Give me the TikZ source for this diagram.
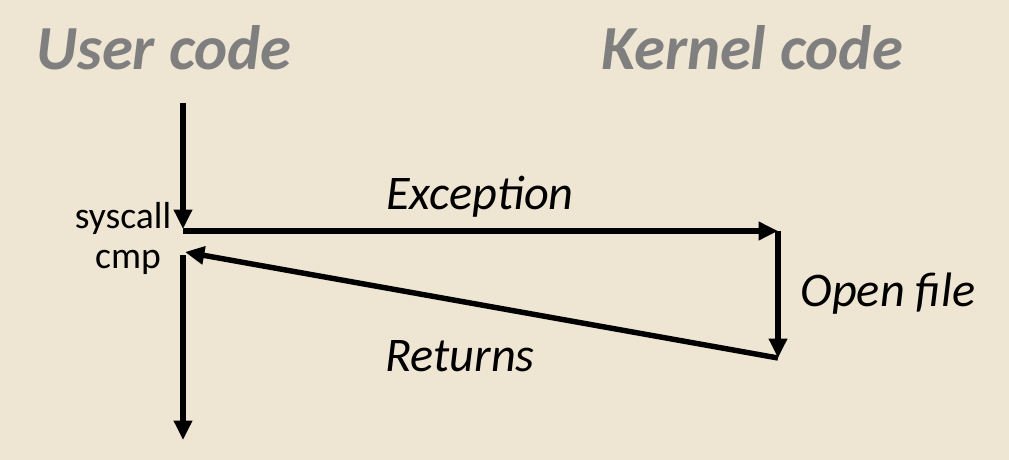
\documentclass[tikz,border=0pt]{standalone}
\usepackage{fontspec}
\setmainfont{Carlito}
\usepackage{xcolor}
\definecolor{slidebg}{HTML}{EEE5D2}
\definecolor{titlegray}{HTML}{7F7F7F}
\usetikzlibrary{arrows.meta}
\tikzset{flow/.style={line width=3.1pt,-{Triangle[length=11pt,width=10pt]}},
 title/.style={font=\fontsize{35.7}{42}\selectfont\bfseries\itshape,text=titlegray},
 label/.style={font=\fontsize{27.5}{32}\selectfont\itshape},
 instr/.style={font=\fontsize{21.4}{25}\selectfont},
 }

\begin{document}
\begin{tikzpicture}[x=0.2mm,y=-0.2mm]
        \fill[slidebg] (0,0) rectangle (1009,460);

        \node[title] (user) at (164,48) {User code};
        \node[title] (kernel) at (752,48) {Kernel code};

        \coordinate (top) at (183,103);
        \coordinate (call) at (183,229);
        \coordinate (excstart) at (183,231);
        \coordinate (kin) at (778,231);
        \coordinate (kout) at (778,358);
        \coordinate (back) at (185,252);
        \coordinate (resume) at (183,255);
        \coordinate (bottom) at (183,440);

        \draw[flow] (top) -- (call);
        \draw[flow] (excstart) -- (kin);
        \draw[flow] (kin) -- (kout);
        \draw[flow] (kout) -- (back);
        \draw[flow] (resume) -- (bottom);

        \node[instr] (syscall) at (123,218) {syscall};
        \node[instr] (cmp) at (128,262) {cmp};

        \node[label] (exc) at (480,197) {Exception};
        \node[label] (open) at (888,294) {Open file};
        \node[label] (ret) at (460,356) {Returns};
\end{tikzpicture}
\end{document}
